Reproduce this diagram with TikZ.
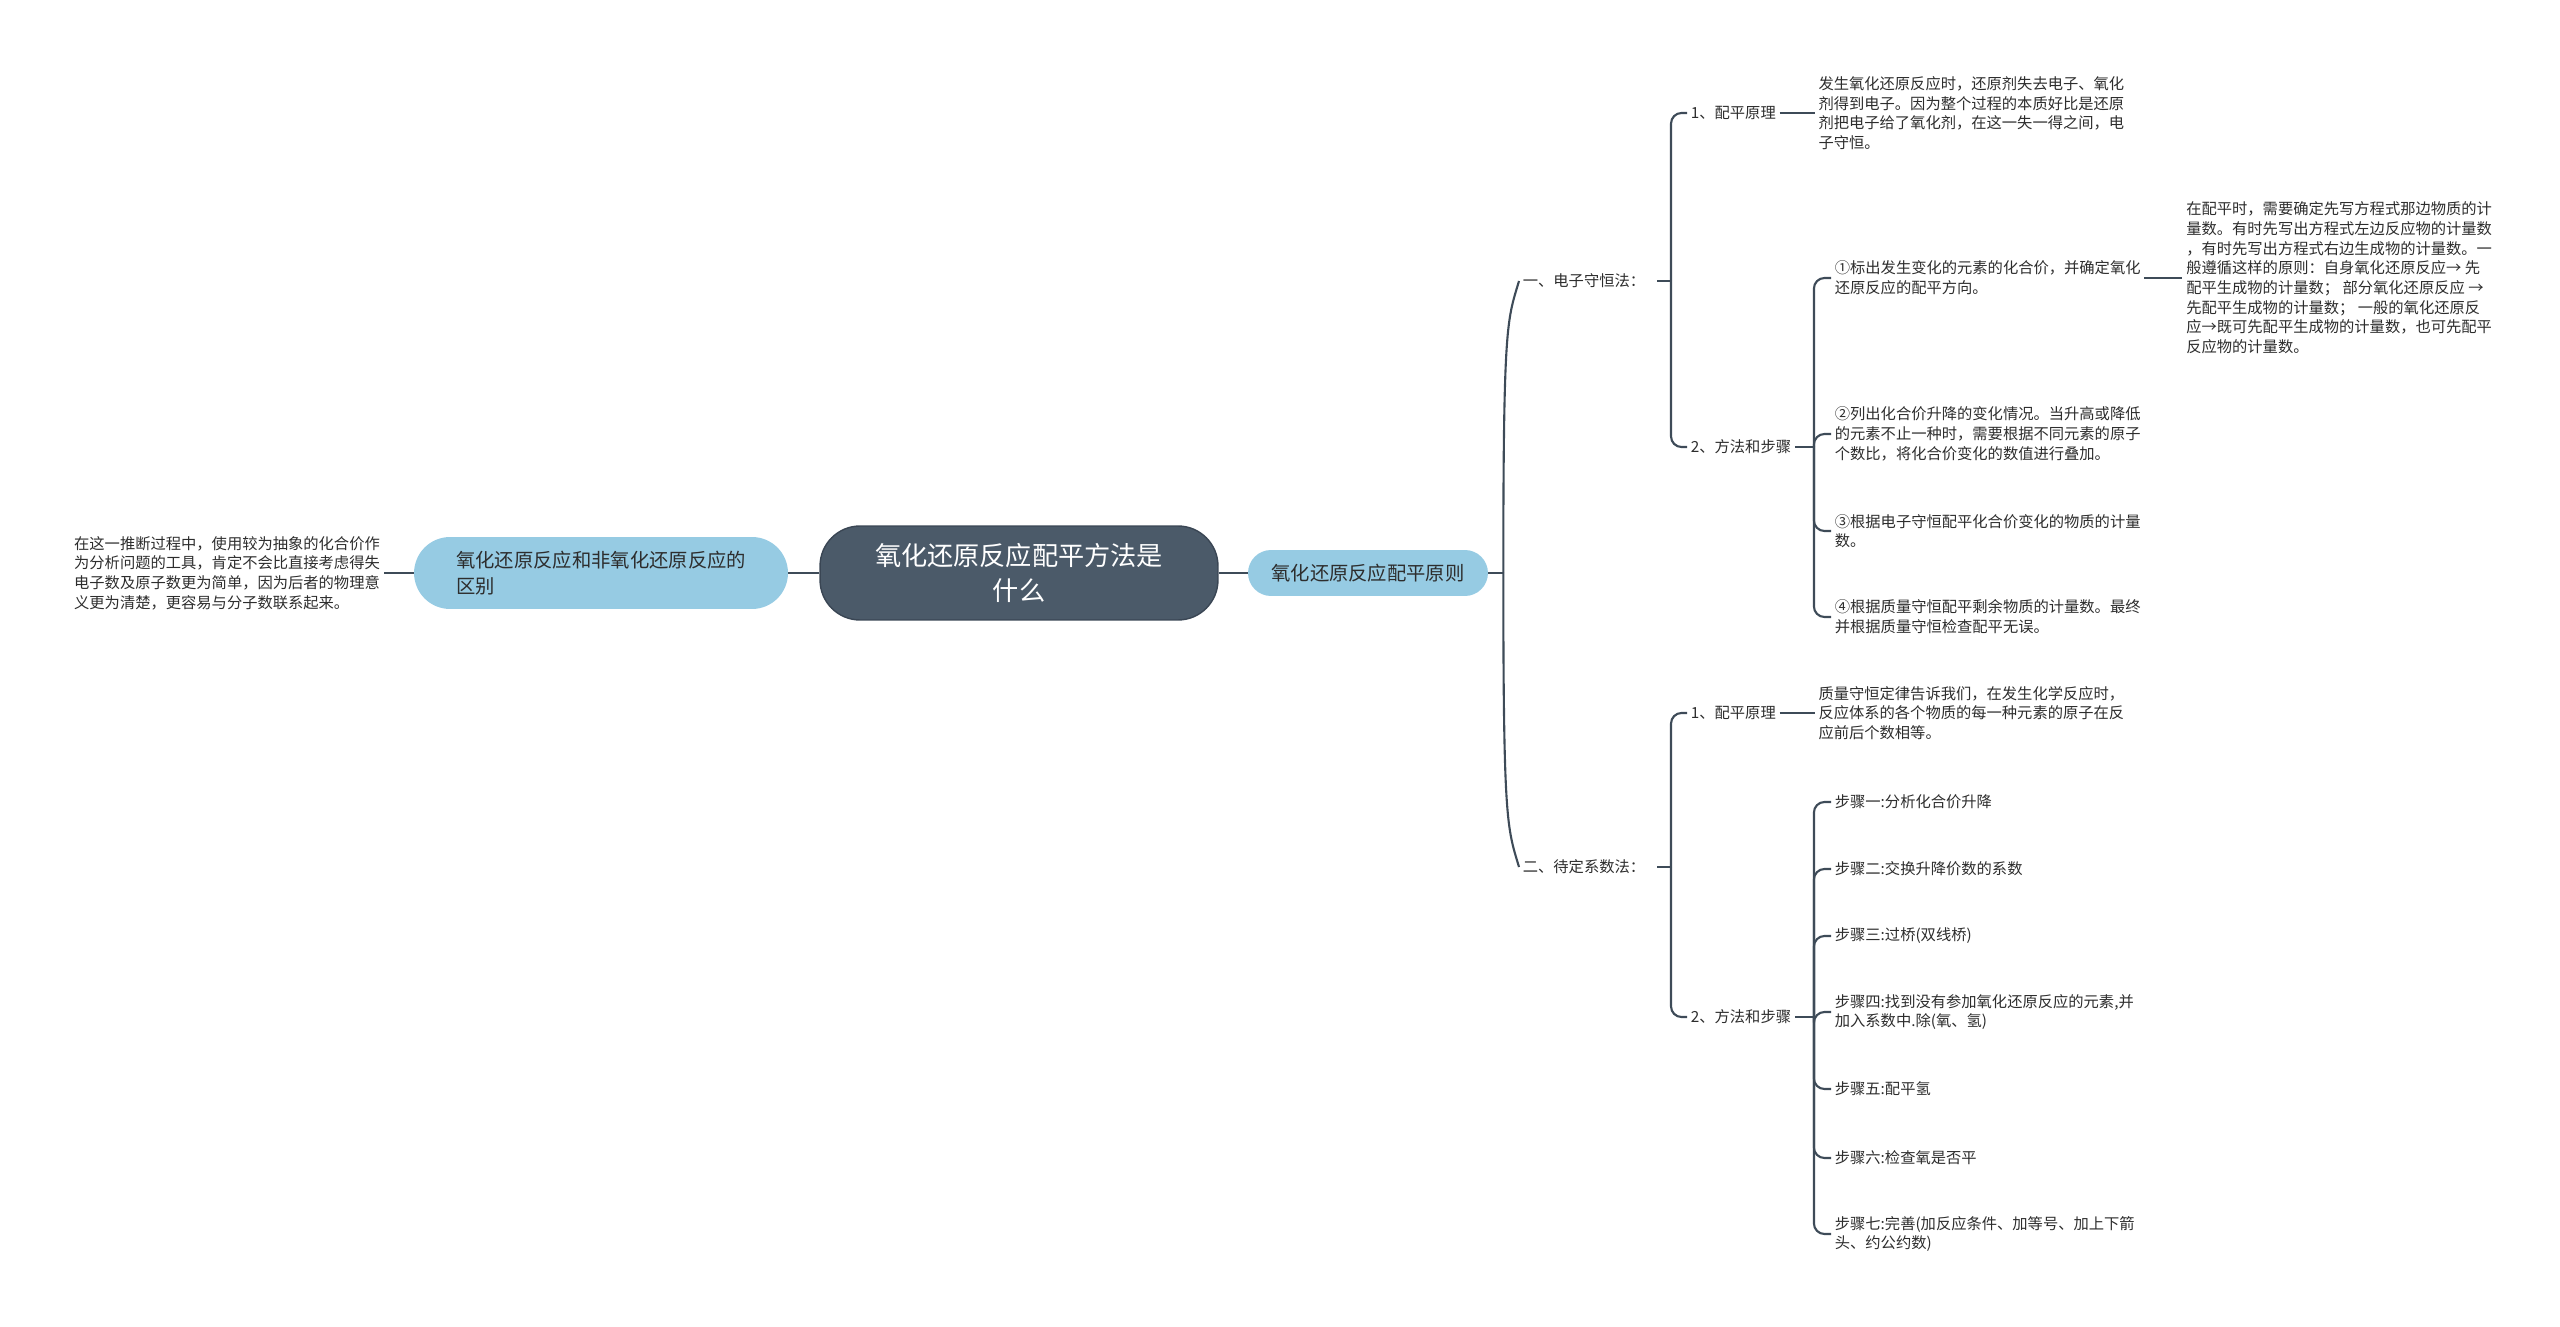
\documentclass[tikz,border=0pt]{standalone}
\usepackage{fontspec}
\setmainfont{Noto Sans CJK SC}
\usepackage{tikz}
\usetikzlibrary{positioning}
\usepackage{xcolor}
\definecolor{rootfill}{RGB}{75,90,105}
\definecolor{rootline}{RGB}{58,70,84}
\definecolor{topicblue}{RGB}{150,203,227}
\definecolor{linkgray}{RGB}{62,75,88}
\definecolor{inkgray}{RGB}{45,45,45}

\begin{document}
\begin{tikzpicture}[
  x=0.02cm, y=-0.02cm,
  root/.style={draw=rootline, thick, fill=rootfill, text=white,
               rounded corners=0.8cm, minimum width=7.96cm, minimum height=1.88cm,
               align=center, font=\fontsize{14.9}{19.6}\selectfont},
  topic/.style={fill=topicblue, text=inkgray, rounded corners=0.46cm,
                minimum height=0.92cm, align=left,
                font=\fontsize{11}{14.8}\selectfont},
  item/.style={text=inkgray, inner sep=2pt, align=left, anchor=west,
               font=\fontsize{8.7}{11.2}\selectfont},
  link/.style={draw=linkgray, line width=1.2pt, rounded corners=6pt},
  ]
  \useasboundingbox (0,0) rectangle (2560,1327);

  \node[root] (root) at (1019,573) {氧化还原反应配平方法是\\什么};
  \node[topic, minimum width=4.8cm, right=0.58cm of root] (rule)
    {氧化还原反应配平原则};
  \node[topic, minimum width=7.48cm, minimum height=1.44cm,
        rounded corners=0.72cm, left=0.62cm of root] (diff)
    {氧化还原反应和非氧化还原反应的\\区别};
  \node[item, left=0.6cm of diff] (diffnote)
    {在这一推断过程中，使用较为抽象的化合价作\\为分析问题的工具，肯定不会比直接考虑得失\\电子数及原子数更为简单，因为后者的物理意\\义更为清楚，更容易与分子数联系起来。};

  \node[item] (elec) at (1519,281) {一、电子守恒法：};
  \node[item] (coef) at (1519,867) {二、待定系数法：};

  \node[item] (ep) at (1687,113) {1、配平原理};
  \node[item, right=0.7cm of ep] (eptext)
    {发生氧化还原反应时，还原剂失去电子、氧化\\剂得到电子。因为整个过程的本质好比是还原\\剂把电子给了氧化剂，在这一失一得之间，电\\子守恒。};
  \node[item] (es) at (1687,447) {2、方法和步骤};
  \node[item] (es1) at (1831,278)
    {①标出发生变化的元素的化合价，并确定氧化\\还原反应的配平方向。};
  \node[item, right=0.76cm of es1] (es1text)
    {在配平时，需要确定先写方程式那边物质的计\\量数。有时先写出方程式左边反应物的计量数\\，有时先写出方程式右边生成物的计量数。一\\般遵循这样的原则：自身氧化还原反应→ 先\\配平生成物的计量数； 部分氧化还原反应 →\\先配平生成物的计量数； 一般的氧化还原反\\应→既可先配平生成物的计量数，也可先配平\\反应物的计量数。};
  \node[item] (es2) at (1831,434)
    {②列出化合价升降的变化情况。当升高或降低\\的元素不止一种时，需要根据不同元素的原子\\个数比，将化合价变化的数值进行叠加。};
  \node[item] (es3) at (1831,531)
    {③根据电子守恒配平化合价变化的物质的计量\\数。};
  \node[item] (es4) at (1831,617)
    {④根据质量守恒配平剩余物质的计量数。最终\\并根据质量守恒检查配平无误。};

  \node[item] (cp) at (1687,713) {1、配平原理};
  \node[item, right=0.7cm of cp] (cptext)
    {质量守恒定律告诉我们，在发生化学反应时，\\反应体系的各个物质的每一种元素的原子在反\\应前后个数相等。};
  \node[item] (cs) at (1687,1017) {2、方法和步骤};
  \node[item] (cs1) at (1831,802) {步骤一:分析化合价升降};
  \node[item] (cs2) at (1831,869) {步骤二:交换升降价数的系数};
  \node[item] (cs3) at (1831,936) {步骤三:过桥(双线桥)};
  \node[item] (cs4) at (1831,1012)
    {步骤四:找到没有参加氧化还原反应的元素,并\\加入系数中.除(氧、氢)};
  \node[item] (cs5) at (1831,1089) {步骤五:配平氢};
  \node[item] (cs6) at (1831,1158) {步骤六:检查氧是否平};
  \node[item] (cs7) at (1831,1234)
    {步骤七:完善(加反应条件、加等号、加上下箭\\头、约公约数)};

  \draw[link] (root.east) -- (rule.west);
  \draw[link] (root.west) -- (diff.east);
  \draw[link] (diff.west) -- (diffnote.east);

  \draw[link] (rule.east) -- ++(15,0);
  \draw[link] (rule.east) ++(15,0) .. controls +(0,-250) and +(-12,40) .. (elec.west);
  \draw[link] (rule.east) ++(15,0) .. controls +(0,250) and +(-12,-40) .. (coef.west);

  \draw[link] (elec.east) ++(8,0) -- ++(14,0);
  \draw[link] (elec.east) ++(22,0) |- (ep.west);
  \draw[link] (elec.east) ++(22,0) |- (es.west);
  \draw[link] (ep.east) -- (eptext.west);
  \draw[link] (es.east) -- ++(19,0);
  \draw[link] (es.east) ++(19,0) |- (es1.west);
  \draw[link] (es.east) ++(19,0) |- (es2.west);
  \draw[link] (es.east) ++(19,0) |- (es3.west);
  \draw[link] (es.east) ++(19,0) |- (es4.west);
  \draw[link] (es1.east) -- (es1text.west);

  \draw[link] (coef.east) ++(8,0) -- ++(14,0);
  \draw[link] (coef.east) ++(22,0) |- (cp.west);
  \draw[link] (coef.east) ++(22,0) |- (cs.west);
  \draw[link] (cp.east) -- (cptext.west);
  \draw[link] (cs.east) -- ++(19,0);
  \draw[link] (cs.east) ++(19,0) |- (cs1.west);
  \draw[link] (cs.east) ++(19,0) |- (cs2.west);
  \draw[link] (cs.east) ++(19,0) |- (cs3.west);
  \draw[link] (cs.east) ++(19,0) |- (cs4.west);
  \draw[link] (cs.east) ++(19,0) |- (cs5.west);
  \draw[link] (cs.east) ++(19,0) |- (cs6.west);
  \draw[link] (cs.east) ++(19,0) |- (cs7.west);
\end{tikzpicture}
\end{document}
